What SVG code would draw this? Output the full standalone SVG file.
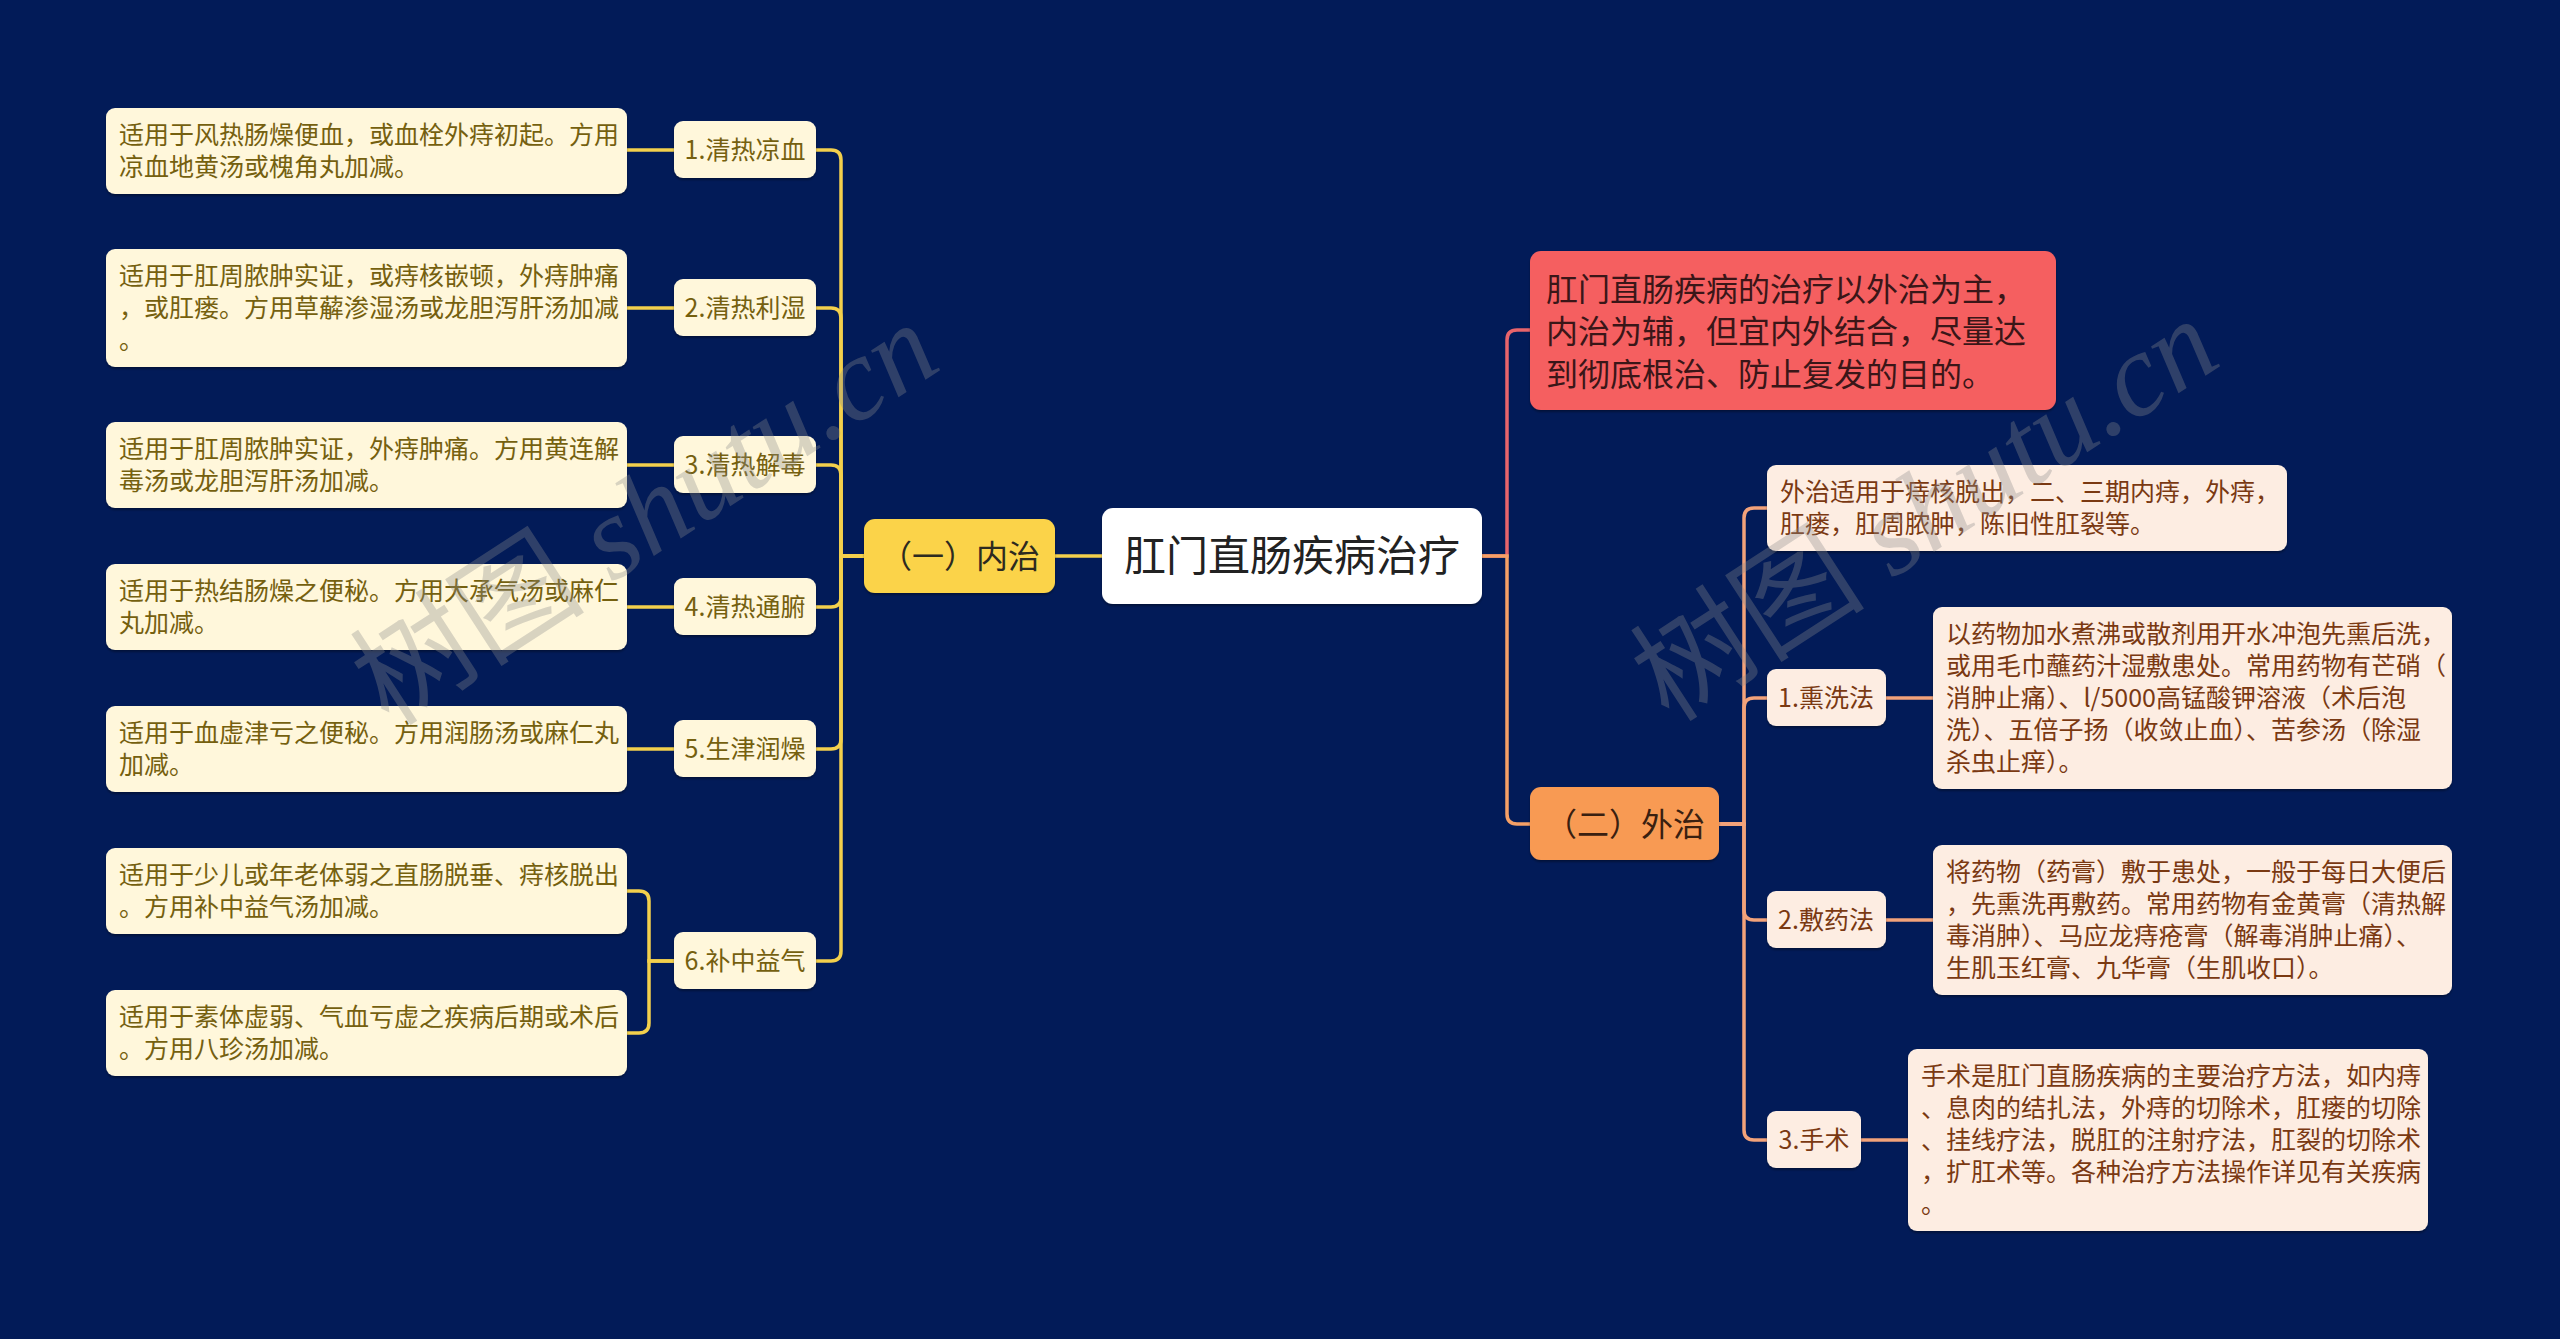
<svg xmlns="http://www.w3.org/2000/svg" width="2560" height="1339" viewBox="0 0 2560 1339">
<defs>
<filter id="sh" x="-5%" y="-5%" width="110%" height="120%"><feDropShadow dx="0" dy="2" stdDeviation="1.2" flood-color="#000" flood-opacity="0.35"/></filter>
</defs>
<style>
text{font-family:"Noto Sans CJK SC","Noto Sans",sans-serif;}
.leafL rect{fill:#FFF7DB;filter:url(#sh);}
.leafL text{fill:#75600F;font-size:25px;}
.subL rect{fill:#FFF7DB;filter:url(#sh);}
.subL text{fill:#75600F;font-size:25px;text-anchor:middle;}
.leafR rect{fill:#FDEDE2;filter:url(#sh);}
.leafR text{fill:#7A3912;font-size:25px;}
.subR rect{fill:#FDEDE2;filter:url(#sh);}
.subR text{fill:#7A3912;font-size:25px;text-anchor:middle;}
.cy{fill:none;stroke:#F3D04C;stroke-width:3.5;}
.cr{fill:none;stroke:#E8646B;stroke-width:3.5;}
.co{fill:none;stroke:#F5A066;stroke-width:3.5;}
.cp{fill:none;stroke:#F2A27A;stroke-width:3.5;}
.wm{font-family:"Liberation Serif","Noto Sans CJK SC",serif;font-size:118px;fill:#8c8c8c;opacity:0.33;}
</style>
<rect width="2560" height="1339" fill="#021B58"/>

<g id="connectors">
<path class="cy" d="M1102 556H1055"/>
<path class="cy" d="M864 556H841V160Q841 150 831 150H816"/>
<path class="cy" d="M864 556H841V318Q841 308 831 308H816"/>
<path class="cy" d="M864 556H841V475Q841 465 831 465H816"/>
<path class="cy" d="M864 556H841V597Q841 607 831 607H816"/>
<path class="cy" d="M864 556H841V739Q841 749 831 749H816"/>
<path class="cy" d="M864 556H841V951Q841 961 831 961H816"/>
<path class="cy" d="M674 150H627"/>
<path class="cy" d="M674 308H627"/>
<path class="cy" d="M674 465H627"/>
<path class="cy" d="M674 607H627"/>
<path class="cy" d="M674 749H627"/>
<path class="cy" d="M674 961H649V901Q649 891 639 891H627"/>
<path class="cy" d="M674 961H649V1023Q649 1033 639 1033H627"/>
<path class="cr" d="M1482 556H1507V340Q1507 330 1517 330H1530"/>
<path class="co" d="M1482 556H1507V814Q1507 824 1517 824H1530"/>
<path class="cp" d="M1719 824H1744V518Q1744 508 1754 508H1767"/>
<path class="cp" d="M1719 824H1744V708Q1744 698 1754 698H1767"/>
<path class="cp" d="M1719 824H1744V910Q1744 920 1754 920H1767"/>
<path class="cp" d="M1719 824H1744V1130Q1744 1140 1754 1140H1767"/>
<path class="cp" d="M1886 698H1933"/>
<path class="cp" d="M1886 920H1933"/>
<path class="cp" d="M1861 1140H1908"/>
</g>

<g id="root">
<rect x="1102" y="508" width="380" height="96" rx="11" fill="#FFFFFF" filter="url(#sh)"/>
<text x="1292" y="571" font-size="42" fill="#222" text-anchor="middle">肛门直肠疾病治疗</text>
</g>

<g id="neizhi">
<rect x="864" y="519" width="191" height="74" rx="11" fill="#FBD348" filter="url(#sh)"/>
<text x="960" y="568" font-size="32" fill="#2d2a20" text-anchor="middle">（一）内治</text>
</g>

<g id="summary">
<rect x="1530" y="251" width="526" height="159" rx="11" fill="#F55F61" filter="url(#sh)"/>
<text font-size="32" fill="#3a1618"><tspan x="1546" y="301">肛门直肠疾病的治疗以外治为主，</tspan><tspan x="1546" y="343">内治为辅，但宜内外结合，尽量达</tspan><tspan x="1546" y="386">到彻底根治、防止复发的目的。</tspan></text>
</g>

<g id="waizhi">
<rect x="1530" y="787" width="189" height="73" rx="11" fill="#F89A52" filter="url(#sh)"/>
<text x="1625" y="836" font-size="32" fill="#3a2010" text-anchor="middle">（二）外治</text>
</g>

<g id="n1" class="subL"><rect x="674" y="121" width="142" height="57" rx="9"/><text x="745" y="159">1.清热凉血</text></g>
<g id="n2" class="subL"><rect x="674" y="279" width="142" height="57" rx="9"/><text x="745" y="317">2.清热利湿</text></g>
<g id="n3" class="subL"><rect x="674" y="436" width="142" height="57" rx="9"/><text x="745" y="474">3.清热解毒</text></g>
<g id="n4" class="subL"><rect x="674" y="578" width="142" height="57" rx="9"/><text x="745" y="616">4.清热通腑</text></g>
<g id="n5" class="subL"><rect x="674" y="720" width="142" height="57" rx="9"/><text x="745" y="758">5.生津润燥</text></g>
<g id="n6" class="subL"><rect x="674" y="932" width="142" height="57" rx="9"/><text x="745" y="970">6.补中益气</text></g>

<g id="l1" class="leafL"><rect x="106" y="108" width="521" height="86" rx="9"/><text><tspan x="119" y="144">适用于风热肠燥便血，或血栓外痔初起。方用</tspan><tspan x="119" y="176">凉血地黄汤或槐角丸加减。</tspan></text></g>
<g id="l2" class="leafL"><rect x="106" y="249" width="521" height="118" rx="9"/><text><tspan x="119" y="285">适用于肛周脓肿实证，或痔核嵌顿，外痔肿痛</tspan><tspan x="119" y="317">，或肛瘘。方用草薢渗湿汤或龙胆泻肝汤加减</tspan><tspan x="119" y="349">。</tspan></text></g>
<g id="l3" class="leafL"><rect x="106" y="422" width="521" height="86" rx="9"/><text><tspan x="119" y="458">适用于肛周脓肿实证，外痔肿痛。方用黄连解</tspan><tspan x="119" y="490">毒汤或龙胆泻肝汤加减。</tspan></text></g>
<g id="l4" class="leafL"><rect x="106" y="564" width="521" height="86" rx="9"/><text><tspan x="119" y="600">适用于热结肠燥之便秘。方用大承气汤或麻仁</tspan><tspan x="119" y="632">丸加减。</tspan></text></g>
<g id="l5" class="leafL"><rect x="106" y="706" width="521" height="86" rx="9"/><text><tspan x="119" y="742">适用于血虚津亏之便秘。方用润肠汤或麻仁丸</tspan><tspan x="119" y="774">加减。</tspan></text></g>
<g id="l6a" class="leafL"><rect x="106" y="848" width="521" height="86" rx="9"/><text><tspan x="119" y="884">适用于少儿或年老体弱之直肠脱垂、痔核脱出</tspan><tspan x="119" y="916">。方用补中益气汤加减。</tspan></text></g>
<g id="l6b" class="leafL"><rect x="106" y="990" width="521" height="86" rx="9"/><text><tspan x="119" y="1026">适用于素体虚弱、气血亏虚之疾病后期或术后</tspan><tspan x="119" y="1058">。方用八珍汤加减。</tspan></text></g>

<g id="r0" class="leafR"><rect x="1767" y="465" width="520" height="86" rx="9"/><text><tspan x="1780" y="501">外治适用于痔核脱出，二、三期内痔，外痔，</tspan><tspan x="1780" y="533">肛瘘，肛周脓肿，陈旧性肛裂等。</tspan></text></g>
<g id="m1" class="subR"><rect x="1767" y="669" width="119" height="57" rx="9"/><text x="1826" y="707">1.熏洗法</text></g>
<g id="m2" class="subR"><rect x="1767" y="891" width="119" height="57" rx="9"/><text x="1826" y="929">2.敷药法</text></g>
<g id="m3" class="subR"><rect x="1767" y="1111" width="94" height="57" rx="9"/><text x="1814" y="1149">3.手术</text></g>
<g id="r1" class="leafR"><rect x="1933" y="607" width="519" height="182" rx="9"/><text><tspan x="1946" y="643">以药物加水煮沸或散剂用开水冲泡先熏后洗，</tspan><tspan x="1946" y="675">或用毛巾蘸药汁湿敷患处。常用药物有芒硝（</tspan><tspan x="1946" y="707">消肿止痛）、l/5000高锰酸钾溶液（术后泡</tspan><tspan x="1946" y="739">洗）、五倍子扬（收敛止血）、苦参汤（除湿</tspan><tspan x="1946" y="771">杀虫止痒）。</tspan></text></g>
<g id="r2" class="leafR"><rect x="1933" y="845" width="519" height="150" rx="9"/><text><tspan x="1946" y="881">将药物（药膏）敷于患处，一般于每日大便后</tspan><tspan x="1946" y="913">，先熏洗再敷药。常用药物有金黄膏（清热解</tspan><tspan x="1946" y="945">毒消肿）、马应龙痔疮膏（解毒消肿止痛）、</tspan><tspan x="1946" y="977">生肌玉红膏、九华膏（生肌收口）。</tspan></text></g>
<g id="r3" class="leafR"><rect x="1908" y="1049" width="520" height="182" rx="9"/><text><tspan x="1921" y="1085">手术是肛门直肠疾病的主要治疗方法，如内痔</tspan><tspan x="1921" y="1117">、息肉的结扎法，外痔的切除术，肛瘘的切除</tspan><tspan x="1921" y="1149">、挂线疗法，脱肛的注射疗法，肛裂的切除术</tspan><tspan x="1921" y="1181">，扩肛术等。各种治疗方法操作详见有关疾病</tspan><tspan x="1921" y="1213">。</tspan></text></g>

<g id="watermark">
<text class="wm" transform="translate(645 514) rotate(-33)" text-anchor="middle" y="40">树图 <tspan font-style="italic">shutu.cn</tspan></text>
<text class="wm" transform="translate(1925 510) rotate(-33)" text-anchor="middle" y="40">树图 <tspan font-style="italic">shutu.cn</tspan></text>
</g>
</svg>
